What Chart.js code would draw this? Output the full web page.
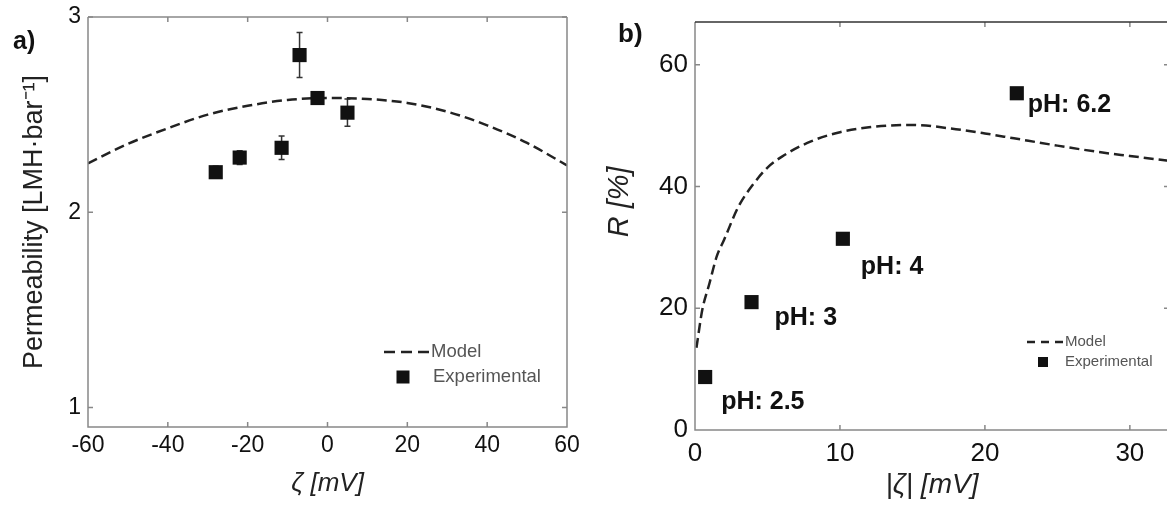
<!DOCTYPE html>
<html>
<head>
<meta charset="utf-8">
<script src="https://cdn.jsdelivr.net/npm/chart.js@4.4.0/dist/chart.umd.min.js"></script>
<style>
  html, body { margin: 0; padding: 0; background: #fff; overflow: hidden; }
  body { width: 1167px; height: 508px; position: relative; }
  canvas { position: absolute; top: 0; }
  #chartA { left: 0; }
  #chartB { left: 600px; }
</style>
</head>
<body>
<canvas id="chartA" width="600" height="508"></canvas>
<canvas id="chartB" width="579" height="508"></canvas>
<script>
// panel a) permeability vs zeta potential
const zetaModel = [-60, -50, -40, -30, -20, -10, 0, 10, 20, 30, 40, 50, 60];
const permModel = [2.25, 2.35, 2.43, 2.50, 2.545, 2.575, 2.585, 2.58, 2.56, 2.515, 2.445, 2.355, 2.24];
const zetaExp = [-28, -22, -11.5, -7, -2.5, 5];
const permExp = [2.205, 2.28, 2.33, 2.805, 2.585, 2.51];
const permErr = [0.03, 0.035, 0.06, 0.115, 0.02, 0.07];
const xTicksA = [-60, -40, -20, 0, 20, 40, 60];
const yTicksA = [1, 2, 3];

// panel b) rejection vs |zeta|
const absZetaModel = [0.1, 0.5, 1, 1.5, 2, 3, 4, 5, 6, 8, 10, 12, 15, 18, 20, 22, 25, 28, 30, 32.7];
const rejModel = [13.5, 19.7, 24.1, 28.5, 31.2, 36.7, 40.3, 43.1, 44.9, 47.4, 48.9, 49.7, 50.1, 49.4, 48.7, 47.9, 46.7, 45.6, 45, 44.2];
const absZetaExp = [0.7, 3.9, 10.2, 22.2];
const rejExp = [8.7, 21, 31.4, 55.3];
const phLabels = ['pH: 2.5', 'pH: 3', 'pH: 4', 'pH: 6.2'];
const xTicksB = [0, 10, 20, 30];
const yTicksB = [0, 20, 40, 60];

const family = '"Liberation Sans", Arial, Helvetica, sans-serif';
const toPts = (xs, ys) => xs.map((x, i) => ({x: x, y: ys[i]}));

// box around the plot with inward tick marks
const frame = {
  id: 'frame',
  afterDatasetsDraw(chart, args, o) {
    const {ctx, chartArea: a, scales: {x, y}} = chart;
    ctx.save();
    ctx.lineWidth = 1.5;
    ctx.strokeStyle = o.color;
    ctx.beginPath();
    ctx.moveTo(a.left, a.top);
    ctx.lineTo(a.left, a.bottom);
    ctx.lineTo(a.right, a.bottom);
    ctx.lineTo(a.right, a.top);
    x.ticks.forEach(t => {
      const px = x.getPixelForValue(t.value);
      ctx.moveTo(px, a.bottom); ctx.lineTo(px, a.bottom - 5);
      ctx.moveTo(px, a.top); ctx.lineTo(px, a.top + 5);
    });
    y.ticks.forEach(t => {
      const py = y.getPixelForValue(t.value);
      ctx.moveTo(a.left, py); ctx.lineTo(a.left + 5, py);
      ctx.moveTo(a.right, py); ctx.lineTo(a.right - 5, py);
    });
    ctx.stroke();
    ctx.strokeStyle = o.topColor;
    ctx.beginPath();
    ctx.moveTo(a.left, a.top); ctx.lineTo(a.right, a.top);
    ctx.stroke();
    ctx.restore();
  }
};

const errorBars = {
  id: 'errorBars',
  beforeDatasetsDraw(chart, args, o) {
    if (!o.err) return;
    const {ctx, scales: {x, y}} = chart;
    const ds = chart.data.datasets[0].data;
    ctx.save();
    ctx.strokeStyle = '#333';
    ctx.lineWidth = 1.5;
    ctx.beginPath();
    ds.forEach((p, i) => {
      const px = x.getPixelForValue(p.x);
      const hi = y.getPixelForValue(p.y + o.err[i]);
      const lo = y.getPixelForValue(p.y - o.err[i]);
      ctx.moveTo(px, hi); ctx.lineTo(px, lo);
      ctx.moveTo(px - 3, hi); ctx.lineTo(px + 3, hi);
      ctx.moveTo(px - 3, lo); ctx.lineTo(px + 3, lo);
    });
    ctx.stroke();
    ctx.restore();
  }
};

// legend, panel tag and point labels
const extras = {
  id: 'extras',
  afterDraw(chart, args, o) {
    const {ctx, scales: {x, y}} = chart;
    const sets = chart.data.datasets;
    ctx.save();
    ctx.textBaseline = 'middle';
    ctx.textAlign = 'left';
    // panel tag
    ctx.fillStyle = '#111';
    ctx.font = `bold ${o.tag.size}px ${family}`;
    ctx.fillText(o.tag.text, o.tag.x, o.tag.y);
    // legend
    const L = o.legend;
    ctx.strokeStyle = '#222';
    ctx.lineWidth = 2.5;
    ctx.setLineDash(L.dash);
    ctx.beginPath();
    ctx.moveTo(L.x, L.y1); ctx.lineTo(L.x + L.len, L.y1);
    ctx.stroke();
    ctx.setLineDash([]);
    ctx.fillStyle = '#111';
    ctx.fillRect(L.sq - L.side / 2, L.y2 - L.side / 2, L.side, L.side);
    ctx.fillStyle = '#555';
    ctx.font = `${L.size}px ${family}`;
    ctx.fillText(sets[1].label, L.x + L.len + 2, L.y1);
    ctx.fillText(sets[0].label, L.tx, L.y2);
    // point labels
    if (o.labels) {
      ctx.fillStyle = '#111';
      ctx.font = `bold ${o.labels.size}px ${family}`;
      sets[0].data.forEach((p, i) => {
        const [dx, dy] = o.labels.offsets[i];
        ctx.fillText(o.labels.text[i], x.getPixelForValue(p.x) + dx, y.getPixelForValue(p.y) + dy);
      });
    }
    ctx.restore();
  }
};

function axis(min, max, ticks, tickSize, pad, size, title) {
  return {
    type: 'linear',
    min: min,
    max: max,
    afterBuildTicks: s => { s.ticks = ticks.map(v => ({value: v})); },
    afterFit: s => {
      if (s.isHorizontal()) s.height = size; else s.width = size;
      s.paddingLeft = s.paddingRight = s.paddingTop = s.paddingBottom = 0;
    },
    grid: {display: false, drawTicks: false},
    border: {display: false},
    ticks: {color: '#111', font: {size: tickSize, family: family}, padding: pad, maxRotation: 0, autoSkip: false},
    title: title
  };
}

new Chart(document.getElementById('chartA').getContext('2d'), {
  type: 'line',
  data: {
    datasets: [{
      label: 'Experimental',
      data: toPts(zetaExp, permExp),
      showLine: false,
      pointStyle: 'rect',
      pointRadius: 10,
      backgroundColor: '#111',
      borderColor: '#111',
      borderWidth: 0
    }, {
      label: 'Model',
      data: toPts(zetaModel, permModel),
      borderColor: '#222',
      borderWidth: 2.5,
      borderDash: [10, 5],
      pointRadius: 0,
      cubicInterpolationMode: 'monotone',
      fill: false
    }]
  },
  options: {
    responsive: false,
    animation: false,
    devicePixelRatio: 1,
    layout: {padding: {left: 0, top: 17, right: 33, bottom: 0}},
    scales: {
      x: axis(-60, 60, xTicksA, 23, 5, 81,
        {display: true, text: 'ζ [mV]', color: '#222', font: {size: 26, style: 'italic', family: family}, padding: {top: 0, bottom: 9}}),
      y: axis(0.9, 3, yTicksA, 23, 7, 88,
        {display: true, text: 'Permeability [LMH·bar⁻¹]', color: '#222', font: {size: 27, family: family}, padding: {top: 18, bottom: 0}})
    },
    plugins: {
      legend: {display: false},
      tooltip: {enabled: false},
      frame: {color: '#888', topColor: '#888'},
      errorBars: {err: permErr},
      extras: {
        tag: {text: 'a)', x: 13, y: 42, size: 25},
        legend: {x: 384, len: 45, y1: 352, dash: [11, 6], sq: 403, y2: 377, side: 13, tx: 433, size: 18.5}
      }
    }
  },
  plugins: [frame, errorBars, extras]
});

new Chart(document.getElementById('chartB').getContext('2d'), {
  type: 'line',
  data: {
    datasets: [{
      label: 'Experimental',
      data: toPts(absZetaExp, rejExp),
      showLine: false,
      pointStyle: 'rect',
      pointRadius: 10,
      backgroundColor: '#111',
      borderColor: '#111',
      borderWidth: 0
    }, {
      label: 'Model',
      data: toPts(absZetaModel, rejModel),
      borderColor: '#222',
      borderWidth: 2.5,
      borderDash: [10, 5],
      pointRadius: 0,
      cubicInterpolationMode: 'monotone',
      fill: false
    }]
  },
  options: {
    responsive: false,
    animation: false,
    devicePixelRatio: 1,
    layout: {padding: {left: 0, top: 22, right: 2, bottom: 0}},
    scales: {
      x: axis(0, 32.7, xTicksB, 26, 8, 78,
        {display: true, text: '|ζ| [mV]', color: '#222', font: {size: 28, style: 'italic', family: family}, padding: {top: 0, bottom: 6}}),
      y: axis(0, 67, yTicksB, 26, 7, 95,
        {display: true, text: '      R [%]', color: '#222', font: {size: 29, style: 'italic', family: family}, padding: {top: 3, bottom: 0}})
    },
    plugins: {
      legend: {display: false},
      tooltip: {enabled: false},
      frame: {color: '#888', topColor: '#333'},
      errorBars: {},
      extras: {
        tag: {text: 'b)', x: 18, y: 35, size: 26},
        legend: {x: 427, len: 36, y1: 342, dash: [8, 6], sq: 443, y2: 362, side: 10, tx: 465, size: 15},
        labels: {text: phLabels, size: 25, offsets: [[16, 25], [23, 16], [18, 28], [11, 12]]}
      }
    }
  },
  plugins: [frame, errorBars, extras]
});
</script>
</body>
</html>
